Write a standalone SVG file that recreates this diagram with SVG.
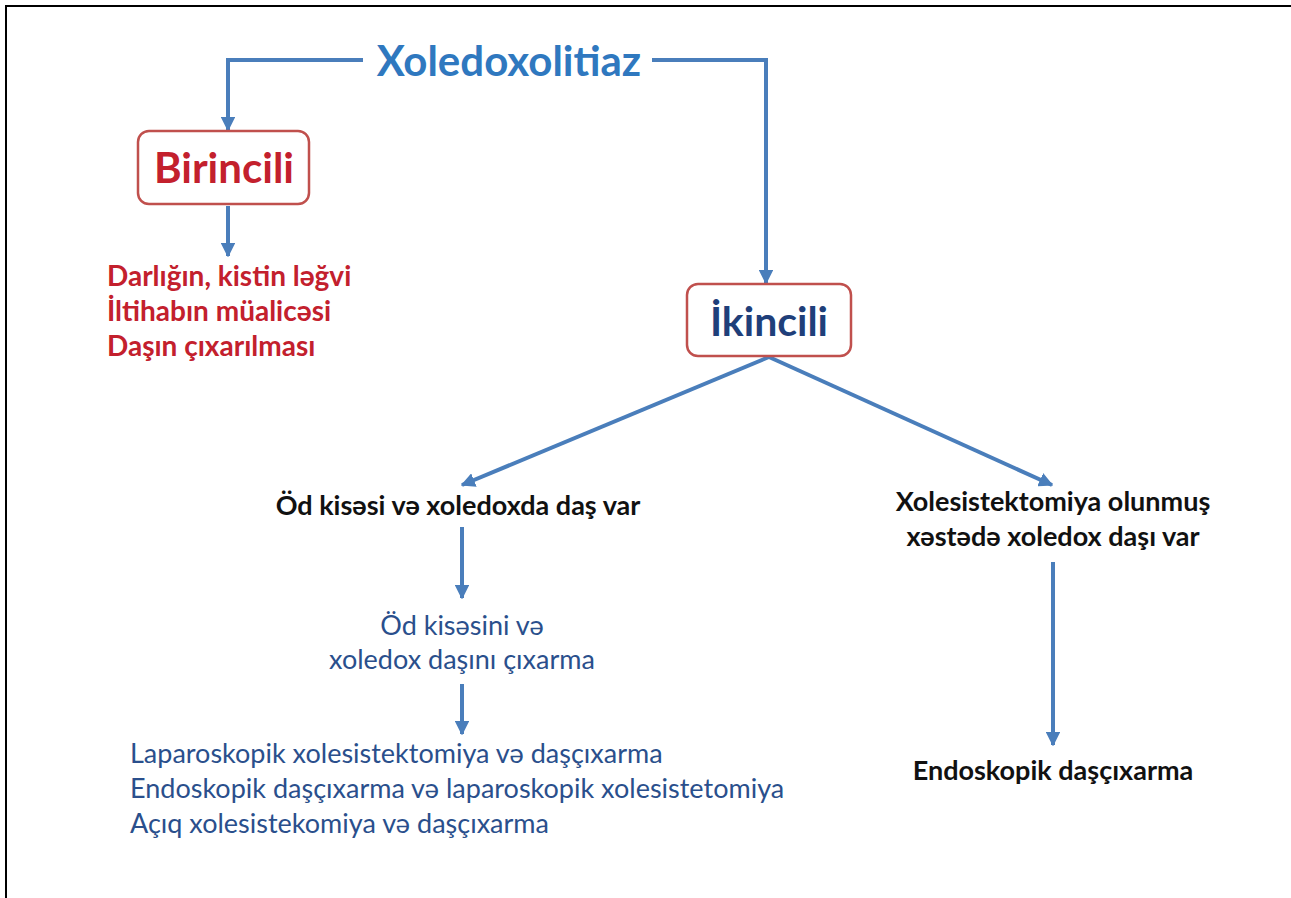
<svg xmlns="http://www.w3.org/2000/svg" width="1291" height="898" viewBox="0 0 1291 898">
<defs>
<style>
text{font-family:Lato,"Open Sans","Liberation Sans",sans-serif;}
.b{font-weight:bold;}
.title{font-size:42px;fill:#2f78bf;font-weight:bold;text-anchor:middle;}
.box{fill:#fff;stroke:#c0504d;stroke-width:2.5;}
.red{fill:#c3202d;font-size:28px;font-weight:bold;}
.navy{fill:#1f3f7a;}
.blk{fill:#111;font-size:27px;font-weight:bold;}
.blu{fill:#2a4f8c;font-size:27px;}
.c{text-anchor:middle;}
.conn path{fill:none;stroke:#4a7ebb;stroke-width:4;marker-end:url(#ah);}
</style>
<marker id="ah" viewBox="0 0 10 10" refX="9" refY="5" markerWidth="3.6" markerHeight="3.6" orient="auto" markerUnits="strokeWidth">
<path d="M0,0 L10,5 L0,10 z" fill="#4a7ebb"/>
</marker>
</defs>
<rect width="1291" height="898" fill="#fff"/>
<path d="M6,898 V6 H1291" fill="none" stroke="#000" stroke-width="2"/>
<g class="conn">
<path d="M363,60 H228 V130"/>
<path d="M652,60 H766 V283"/>
<path d="M228,206 V256"/>
<path d="M769,357 L462,485"/>
<path d="M769,357 L1052,485"/>
<path d="M462,527 V598"/>
<path d="M462,684 V734"/>
<path d="M1053,562 V745"/>
</g>
<g id="root"><text class="title" x="509" y="76">Xoledoxolitiaz</text></g>
<g id="birincili">
<rect class="box" x="138" y="131" width="171" height="73" rx="11"/>
<text class="c b" x="224" y="183" font-size="42" fill="#c3202d">Birincili</text>
</g>
<g id="birincili-items">
<text class="red" x="107" y="286">Darlığın, kistin ləğvi</text>
<text class="red" x="107" y="321">İltihabın müalicəsi</text>
<text class="red" x="107" y="356">Daşın çıxarılması</text>
</g>
<g id="ikincili">
<rect class="box" x="687" y="284" width="164" height="72" rx="11"/>
<text class="c b navy" x="769" y="336" font-size="41">İkincili</text>
</g>
<g id="od-kisesi">
<text class="blk c" x="458" y="515">Öd kisəsi və xoledoxda daş var</text>
</g>
<g id="xolesistektomiya">
<text class="blk c" x="1053" y="511">Xolesistektomiya olunmuş</text>
<text class="blk c" x="1053" y="546">xəstədə xoledox daşı var</text>
</g>
<g id="cixarma">
<text class="blu c" x="462" y="635">Öd kisəsini və</text>
<text class="blu c" x="462" y="669">xoledox daşını çıxarma</text>
</g>
<g id="usullar">
<text class="blu" x="130" y="763">Laparoskopik xolesistektomiya və daşçıxarma</text>
<text class="blu" x="130" y="798">Endoskopik daşçıxarma və laparoskopik xolesistetomiya</text>
<text class="blu" x="130" y="833">Açıq xolesistekomiya və daşçıxarma</text>
</g>
<g id="endoskopik">
<text class="blk c" x="1053" y="780">Endoskopik daşçıxarma</text>
</g>
</svg>
